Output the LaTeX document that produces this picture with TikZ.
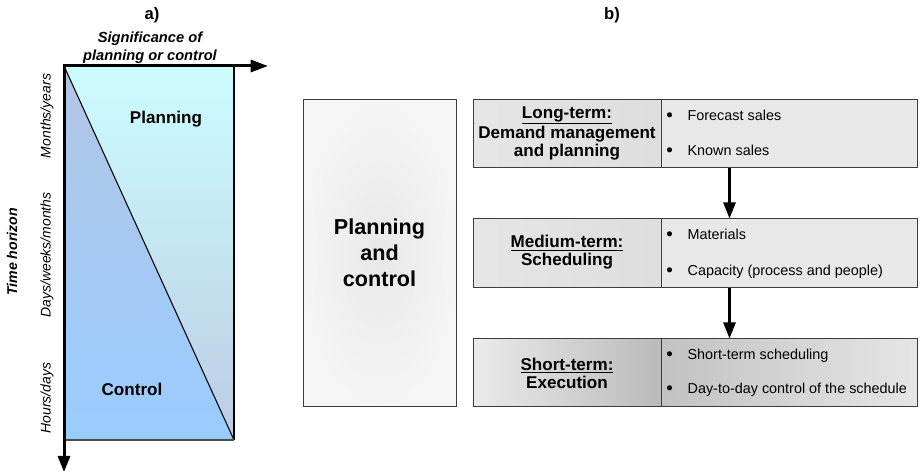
\documentclass[tikz,border=0pt]{standalone}
\usepackage{fontspec}
\setmainfont{Liberation Sans}
\usetikzlibrary{arrows.meta,calc,fit}
\definecolor{planTop}{RGB}{204,252,255}
\definecolor{planBot}{RGB}{188,204,228}
\definecolor{ctrlTop}{RGB}{178,198,230}
\definecolor{ctrlBot}{RGB}{153,204,255}
\definecolor{edge}{RGB}{60,60,60}
\newcommand\bul[1]{\makebox[16pt][l]{\raisebox{-0.6pt}{\fontsize{14}{14}\selectfont\textbullet}}#1}
\begin{document}
\begin{tikzpicture}[x=0.75pt,y=-0.75pt,
  title/.style={inner sep=0pt, font=\fontsize{12.5}{14}\selectfont\bfseries},
  lbl/.style={inner sep=0pt, font=\fontsize{10.5}{12}\selectfont\itshape},
  axislbl/.style={inner sep=0pt, align=center, font=\fontsize{11}{13.5}\selectfont\bfseries\itshape},
  region/.style={inner sep=0pt, font=\fontsize{12.8}{14}\selectfont\bfseries},
  cell/.style={draw=edge, line width=0.75pt, inner sep=0pt},
  celltext/.style={inner sep=0pt, align=center,
    font=\fontsize{12.8}{13.5}\selectfont\bfseries},
  item/.style={inner sep=0pt, anchor=west, font=\fontsize{10.8}{13}\selectfont},
  axis/.style={line width=2.25pt,
    {Triangle[length=12pt,width=9pt]}-{Triangle[length=13pt,width=9pt]}},
  flow/.style={line width=2pt, -{Triangle[length=12pt,width=9pt]}}]
\useasboundingbox (0,0) rectangle (921,473);

% ---------- a) time horizon versus significance ----------
\coordinate (O)  at (64,66);
\coordinate (TR) at (234,66);
\coordinate (BR) at (234,440);
\coordinate (BL) at (64,440);
\coordinate (xend) at (268,66);
\coordinate (yend) at (64,472);

\shade[top color=planTop, bottom color=planBot] (O) -- (TR) -- (BR) -- cycle;
\shade[top color=ctrlTop, bottom color=ctrlBot] (O) -- (BR) -- (BL) -- cycle;
\draw[line width=0.8pt] (O) -- (BR);
\draw[line width=0.8pt] (TR) -- (BR);
\draw[line width=1.5pt, draw=black!70] (BL) -- (BR);
\draw[axis] (yend) -- (O) -- (xend);

\node[title] (ta) at (152,15) {a)};
\node[axislbl] (sig) at (150,48) {Significance of\\planning or control};
\node[region] (plan) at (166,119) {Planning};
\node[region] (ctrl) at (132,389) {Control};
\node[lbl, rotate=90] (my) at (47,116) {Months/years};
\node[lbl, rotate=90] (dwm) at (47,255) {Days/weeks/months};
\node[lbl, rotate=90] (hd) at (47,398) {Hours/days};
\node[axislbl, font=\fontsize{10.6}{12}\selectfont\bfseries\itshape, rotate=90]
  (th) at (12,252) {Time horizon};

% ---------- b) levels of planning and control ----------
\node[title] (tb) at (612,15) {b)};

\node[cell, inner color=black!9, outer color=black!4, fit={(303,100)(456,407)}] (pc) {};
\node[celltext, font=\fontsize{16.2}{19.3}\selectfont\bfseries] (pct)
  at ($(pc.center)+(0,-0.5)$) {Planning\\and\\control};

% long-term row
\node[cell, fit={(473,100)(661,168)}, left color=black!10, right color=black!13] (lt) {};
\node[cell, fit={(661,100)(917,168)}, fill=black!9] (ltb) {};
\node[celltext] (ltt) at ($(lt.center)+(0,-1)$)
  {\underline{Long-term:}\\Demand management\\and planning};
\node[item] (f1) at (666,116) {\bul{Forecast sales}};
\node[item] (f2) at (666,151) {\bul{Known sales}};

% medium-term row
\node[cell, fit={(473,219)(661,288)}, left color=black!10, right color=black!13] (mt) {};
\node[cell, fit={(661,219)(917,288)}, fill=black!9] (mtb) {};
\node[celltext] (mtt) at ($(mt.center)+(0,-1)$) {\underline{Medium-term:}\\Scheduling};
\node[item] (m1) at (666,235) {\bul{Materials}};
\node[item] (m2) at (666,271.5) {\bul{Capacity (process and people)}};

% short-term row
\node[cell, fit={(473,339)(661,407)}, left color=black!8, right color=black!27] (st) {};
\node[cell, fit={(661,339)(917,407)}, left color=black!24, right color=black!10] (stb) {};
\node[celltext] (stt) at (st.center) {\underline{Short-term:}\\Execution};
\node[item] (s1) at (666,356) {\bul{Short-term scheduling}};
\node[item] (s2) at (666,390) {\bul{Day-to-day control of the schedule}};

% flow between the levels
\draw[flow] ($(ltb.south west)+(69,0)$) -- ($(mtb.north west)+(69,0)$);
\draw[flow] ($(mtb.south west)+(69,0)$) -- ($(stb.north west)+(69,0)$);
\end{tikzpicture}
\end{document}
